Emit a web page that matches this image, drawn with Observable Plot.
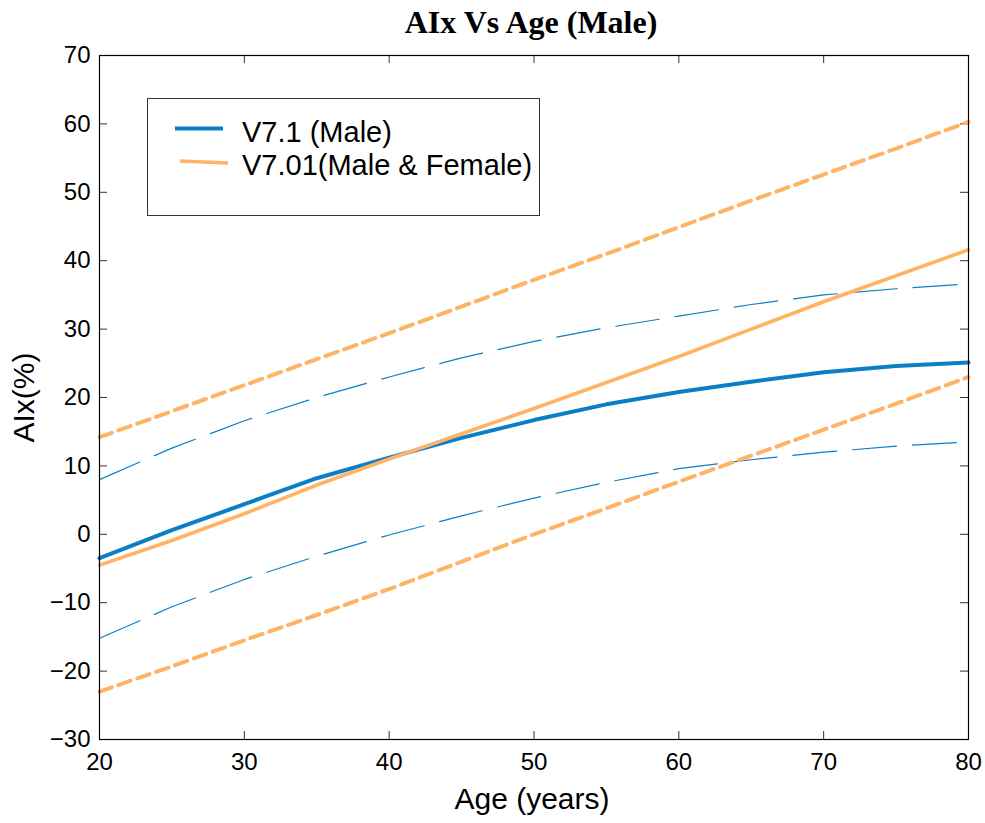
<!DOCTYPE html>
<html>
<head>
<meta charset="utf-8">
<script src="https://cdn.jsdelivr.net/npm/d3@7"></script>
<script src="https://cdn.jsdelivr.net/npm/@observablehq/plot@0.6"></script>
<style>
  html, body { margin: 0; padding: 0; background: #fff; }
  #wrap { position: relative; width: 985px; height: 823px; }
  #legend { position: absolute; left: 147px; top: 98px; width: 391px; height: 116px;
            border: 1px solid #333; background: #fff; box-sizing: content-box; }
  #legend svg { display: block; }
</style>
</head>
<body>
<div id="wrap"></div>
<script>
const titleText = "AIx Vs Age (Male)";
const xLabel = "Age (years)";
const yLabel = "AIx(%)";
const xTicks = [20, 30, 40, 50, 60, 70, 80];
const yTicks = [-30, -20, -10, 0, 10, 20, 30, 40, 50, 60, 70];

const ages        = [20, 25, 30, 35, 40, 45, 50, 55, 60, 65, 70, 75, 80];
const blueMean    = [-3.5, 0.6, 4.4, 8.2, 11.2, 14.1, 16.7, 19.0, 20.8, 22.3, 23.7, 24.6, 25.1];
const blueUpper   = [8.0, 12.6, 16.6, 20.0, 23.0, 25.8, 28.2, 30.2, 31.9, 33.6, 35.0, 35.9, 36.6];
const blueLower   = [-15.2, -10.6, -6.6, -3.2, -0.1, 2.7, 5.3, 7.6, 9.6, 10.9, 12.0, 12.9, 13.5];
const orangeMean  = [-4.5, -0.9, 3.0, 7.2, 11.0, 14.7, 18.4, 22.2, 26.0, 30.0, 34.0, 37.8, 41.6];
const orangeUpper = [14.2, 18.0, 21.8, 25.6, 29.4, 33.3, 37.2, 41.0, 44.9, 48.8, 52.6, 56.4, 60.3];
const orangeLower = [-23.0, -19.3, -15.5, -11.8, -8.0, -4.0, 0.0, 3.8, 7.7, 11.5, 15.3, 19.1, 23.0];

const seriesNames = ["V7.1 (Male)", "V7.01(Male & Female)"];
const BLUE = "#0b7fc6";
const ORANGE = "#ffb366";

const toRows = (vals) => ages.map((a, i) => ({age: a, v: vals[i]}));

const W = 985, H = 823, ML = 99, MR = 17, MT = 55, MB = 84;
const FW = W - ML - MR, FH = H - MT - MB;
const T = 8;
const sans = "'Liberation Sans', Arial, sans-serif";

const chart = Plot.plot({
  width: W, height: H,
  marginLeft: ML, marginRight: MR, marginTop: MT, marginBottom: MB,
  style: {fontFamily: sans, background: "#fff", color: "#000"},
  x: {domain: [20, 80], ticks: xTicks},
  y: {domain: [-30, 70], ticks: yTicks},
  marks: [
    Plot.axisX({ticks: xTicks, tickSize: 0, tickPadding: 13, fontSize: 24, label: null, fill: "#000"}),
    Plot.axisY({ticks: yTicks, tickSize: 0, tickPadding: 9, fontSize: 24, label: null, fill: "#000"}),
    // inward ticks on all sides
    Plot.tickY(yTicks, {y: d => d, insetRight: FW - T, stroke: "#333", strokeWidth: 1}),
    Plot.tickY(yTicks, {y: d => d, insetLeft: FW - T, stroke: "#333", strokeWidth: 1}),
    Plot.tickX(xTicks, {x: d => d, insetTop: FH - T, stroke: "#333", strokeWidth: 1}),
    Plot.tickX(xTicks, {x: d => d, insetBottom: FH - T, stroke: "#333", strokeWidth: 1}),
    // blue series
    Plot.line(toRows(blueUpper), {x: "age", y: "v", stroke: BLUE, strokeWidth: 1.2, strokeDasharray: "44 16", curve: "linear"}),
    Plot.line(toRows(blueLower), {x: "age", y: "v", stroke: BLUE, strokeWidth: 1.2, strokeDasharray: "44 16", curve: "linear"}),
    Plot.line(toRows(blueMean), {x: "age", y: "v", stroke: BLUE, strokeWidth: 4, curve: "linear"}),
    // orange series
    Plot.line(toRows(orangeUpper), {x: "age", y: "v", stroke: ORANGE, strokeWidth: 4, strokeDasharray: "13 7", curve: "linear"}),
    Plot.line(toRows(orangeLower), {x: "age", y: "v", stroke: ORANGE, strokeWidth: 4, strokeDasharray: "13 7", curve: "linear"}),
    Plot.line(toRows(orangeMean), {x: "age", y: "v", stroke: ORANGE, strokeWidth: 3.6, curve: "linear"}),
    Plot.frame({stroke: "#000", strokeWidth: 1.2}),
    // title and axis labels
    Plot.text([titleText], {text: d => d, frameAnchor: "top", lineAnchor: "bottom", dy: -23, dx: -3,
      fontFamily: "'Liberation Serif', 'Times New Roman', serif", fontWeight: "bold", fontSize: 32, fill: "#000"}),
    Plot.text([xLabel], {text: d => d, frameAnchor: "bottom", lineAnchor: "bottom", dy: 69, dx: -2,
      fontSize: 30, fill: "#000"}),
    Plot.text([yLabel], {text: d => d, frameAnchor: "left", textAnchor: "middle", lineAnchor: "bottom", rotate: -90, dx: -66,
      fontSize: 30, fill: "#000"})
  ]
});

const wrap = document.getElementById("wrap");
wrap.appendChild(chart);

// legend box
const legend = document.createElement("div");
legend.id = "legend";
const ns = "http://www.w3.org/2000/svg";
const lsvg = document.createElementNS(ns, "svg");
lsvg.setAttribute("width", 391);
lsvg.setAttribute("height", 116);
const items = [
  {name: seriesNames[0], color: BLUE, x1: 27, x2: 75, y1: 29.5, y2: 29.5, w: 4, ty: 42.5},
  {name: seriesNames[1], color: ORANGE, x1: 32, x2: 80, y1: 62, y2: 64, w: 3.6, ty: 76}
];
for (const it of items) {
  const ln = document.createElementNS(ns, "line");
  ln.setAttribute("x1", it.x1); ln.setAttribute("x2", it.x2);
  ln.setAttribute("y1", it.y1); ln.setAttribute("y2", it.y2);
  ln.setAttribute("stroke", it.color); ln.setAttribute("stroke-width", it.w);
  lsvg.appendChild(ln);
  const tx = document.createElementNS(ns, "text");
  tx.setAttribute("x", 94); tx.setAttribute("y", it.ty);
  tx.setAttribute("font-family", sans);
  tx.setAttribute("font-size", 29);
  tx.setAttribute("fill", "#000");
  tx.textContent = it.name;
  lsvg.appendChild(tx);
}
legend.appendChild(lsvg);
wrap.appendChild(legend);
</script>
</body>
</html>
